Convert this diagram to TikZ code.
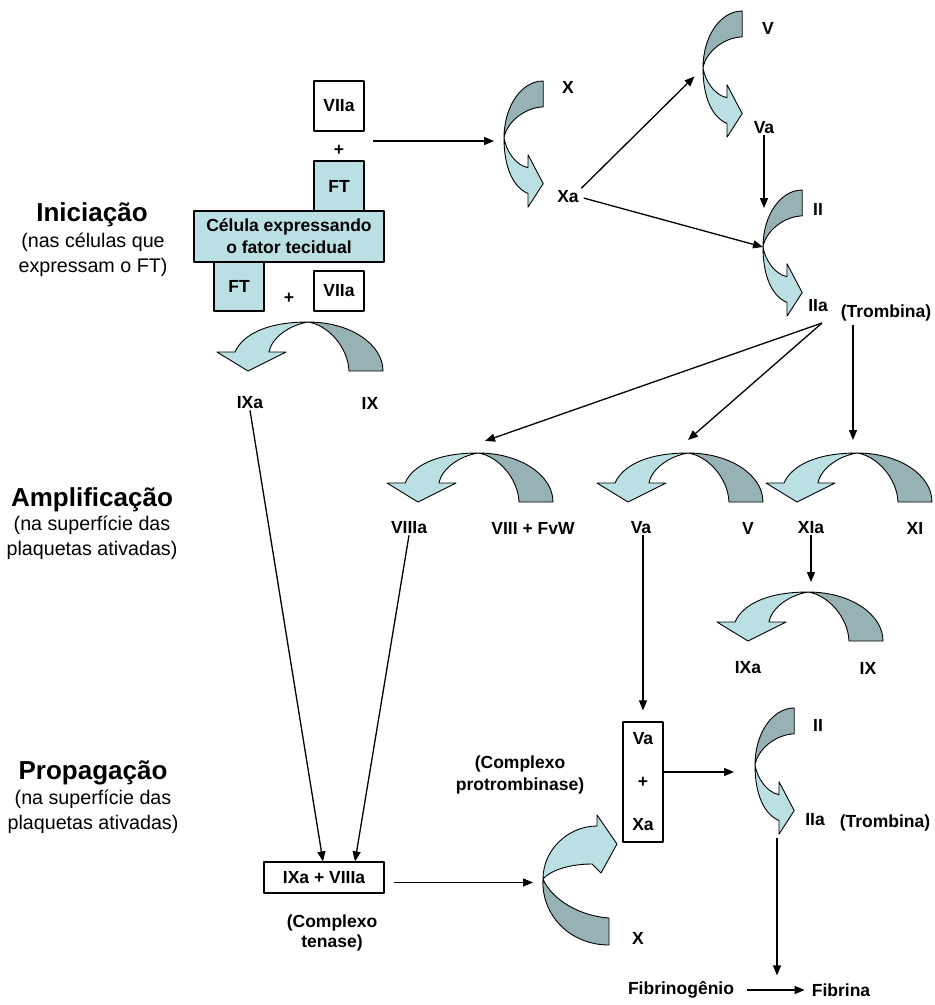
\documentclass[tikz,border=0pt]{standalone}
\usepackage{fontspec}
\setmainfont{Liberation Sans}
\usetikzlibrary{positioning}
\usetikzlibrary{arrows.meta}

\definecolor{claro}{RGB}{186,224,227}
\definecolor{escuro}{RGB}{150,178,181}

\tikzset{
  arco/.pic={
    % parte escura
    \draw[fill=escuro] (0,0) .. controls (42,0) and (75,22) .. (75,49) -- (41,49) .. controls (40,25) and (20,3) .. (0,0) -- cycle;
    % parte clara com a ponta
    \draw[fill=claro] (0,0) .. controls (-40,0) and (-65,12) .. (-73,30) -- (-91,30) -- (-60,49) -- (-22,30) -- (-39,30) .. controls (-36,15) and (-18,3) .. (0,0) -- cycle;
  },
  emC/.style={rotate=90, xscale=0.76, yscale=0.8}
}

\begin{document}
\begin{tikzpicture}[x=1pt, y=-1pt, line join=round,
    caixa/.style={draw, line width=1.2pt, minimum width=50pt, minimum height=50pt, inner sep=0pt, font=\bfseries\fontsize{17.5}{22}\selectfont},
    rotulo/.style={inner sep=1pt, font=\bfseries\fontsize{17.5}{22}\selectfont},
    titulo/.style={inner sep=0pt, font=\bfseries\fontsize{26}{30}\selectfont},
    legenda/.style={inner sep=0pt, align=center, font=\fontsize{19.7}{24.5}\selectfont},
    seta/.style={-{Triangle[length=10pt,width=8pt]}, line width=1.3pt},
    forma/.style={line width=0.9pt}]

    \useasboundingbox (0,0) rectangle (935,1005);

    % fases
    \node(ini)[titulo] at (92,215){Iniciação};
    \node(iniSub)[legenda] at (93,255){(nas células que\\expressam o FT)};
    \node(amp)[titulo] at (92,500){Amplificação};
    \node(ampSub)[legenda] at (92,538){(na superfície das\\plaquetas ativadas)};
    \node(prop)[titulo] at (93,773){Propagação};
    \node(propSub)[legenda] at (93,812){(na superfície das\\plaquetas ativadas)};

    % celula que expressa o FT
    \node(VIIa1)[caixa] at (339,106){VIIa};
    \node(mais1)[rotulo] at (339,150){+};
    \node(FT1)[caixa, fill=claro] at (339,186){FT};
    \node(celula)[caixa, fill=claro, minimum width=190pt, minimum height=51pt, align=center] at (289,236.5){Célula expressando\\o fator tecidual};
    \node(FT2)[caixa, fill=claro, minimum height=49pt] at (239,286.5){FT};
    \node(mais2)[rotulo] at (289,298){+};
    \node(VIIa2)[caixa, minimum height=40pt] at (339,291){VIIa};

    % pontos das setas curvas
    \coordinate(pX) at (504,138);
    \coordinate(pV) at (703,68);
    \coordinate(pII) at (763,247);
    \coordinate(pII2) at (755,765);
    \coordinate(aIX) at (308,322);
    \coordinate(aVIII) at (478,453);
    \coordinate(aV) at (688,453);
    \coordinate(aXI) at (857,453);
    \coordinate(aIX2) at (808,592);

    \pic[forma, emC] at (pX){arco};
    \pic[forma, emC] at (pV){arco};
    \pic[forma, emC] at (pII){arco};
    \pic[forma, emC] at (pII2){arco};
    \pic[forma] at (aIX){arco};
    \pic[forma] at (aVIII){arco};
    \pic[forma] at (aV){arco};
    \pic[forma] at (aXI){arco};
    \pic[forma] at (aIX2){arco};

    % X -> complexo protrombinase
    \coordinate(pXb) at (543,879);
    \draw[forma, fill=escuro] (pXb) .. controls (541,915) and (570,945) .. (609,945) -- (609,918) .. controls (580,916) and (552,900) .. (pXb) -- cycle;
    \draw[forma, fill=claro] (pXb) .. controls (543,850) and (568,826) .. (597,826) -- (597,815) -- (617,844) -- (601,873) -- (592,864) .. controls (575,864) and (553,868) .. (pXb) -- cycle;

    % rotulos
    \node(X1)[rotulo] at (568,87){X};
    \node(Xa1)[rotulo] at (568,197){Xa};
    \node(V1)[rotulo] at (768,28){V};
    \node(Va1)[rotulo] at (764,128){Va};
    \node(II1)[rotulo] at (818,209){II};
    \node(IIa1)[rotulo] at (818,306){IIa};
    \node(tromb1)[rotulo] at (886,313){(Trombina)};
    \node(IXa1)[rotulo] at (250,403){IXa};
    \node(IX1)[rotulo] at (370,403){IX};

    \node(VIIIa)[rotulo] at (409,528){VIIIa};
    \node(VIIIFvW)[rotulo] at (533,528){VIII + FvW};
    \node(Va2)[rotulo] at (641,528){Va};
    \node(V2)[rotulo] at (748,528){V};
    \node(XIa)[rotulo] at (811,528){XIa};
    \node(XI)[rotulo] at (915,528){XI};
    \node(IXa2)[rotulo] at (748,668){IXa};
    \node(IX2)[rotulo] at (868,668){IX};

    \node(tenase)[caixa, minimum width=120pt, minimum height=31pt] at (324,877.5){IXa + VIIIa};
    \node(tenaseTxt)[rotulo, align=center] at (332,933){(Complexo\\[-2pt]tenase)};
    \node(protro)[caixa, minimum width=40pt, minimum height=120pt, align=center] at (643,782){Va\\[21pt]+\\[21pt]Xa};
    \node(protroTxt)[rotulo, align=center] at (520,775){(Complexo\\protrombinase)};
    \node(X2)[rotulo] at (638,938){X};
    \node(II2)[rotulo] at (818,725){II};
    \node(IIa2)[rotulo] at (815,820){IIa};
    \node(tromb2)[rotulo] at (885,823){(Trombina)};
    \node(fibrinogenio)[rotulo] at (681,990){Fibrinogênio};
    \node(fibrina)[rotulo] at (841,990){Fibrina};

    % setas
    \coordinate(iniSeta) at (373,141);
    \draw[seta, shorten >=10pt] (iniSeta) -- (iniSeta -| pX);
    \draw[seta, shorten <=2pt, shorten >=12pt] (Xa1.north east) -- (pV);
    \draw[seta, shorten <=4pt] (Xa1.east) -- (pII);
    \coordinate(IIentra) at (764,208);
    \draw[seta] (Va1.south) -- (IIentra);

    \coordinate(tromb) at (822,323);
    \coordinate(trombDir) at (853,325);
    \draw[seta] (tromb) -- ([xshift=7pt, yshift=12pt]aVIII);
    \draw[seta] (tromb) -- ([yshift=13pt]aV);
    \draw[seta] (trombDir) -- ([xshift=-4pt, yshift=13pt]aXI);
    \coordinate(IXentra) at (811,582);
    \draw[seta] (XIa.south) -- (IXentra);

    \draw[seta] (IXa1.south) -- ([xshift=-1pt]tenase.north);
    \draw[seta] (VIIIa.south) -- ([xshift=31pt]tenase.north);
    \draw[seta, shorten >=11pt] (protro.north |- Va2.south) -- (protro.north);
    \coordinate(protroSai) at ([yshift=10pt]protro.east);
    \draw[seta, shorten >=21pt] (protroSai) -- (protroSai -| pII2);
    \coordinate(tenaseSai) at ([yshift=-5pt]tenase.east);
    \draw[seta, shorten <=9pt, shorten >=10pt] (tenaseSai) -- (tenaseSai -| pXb);
    \coordinate(IIsai2) at (777,838);
    \draw[seta, shorten >=7pt] (IIsai2) -- (IIsai2 |- fibrina.north);
    \draw[seta, shorten <=12pt, shorten >=6pt] (fibrinogenio.east) -- (fibrina.west);

\end{tikzpicture}
\end{document}
